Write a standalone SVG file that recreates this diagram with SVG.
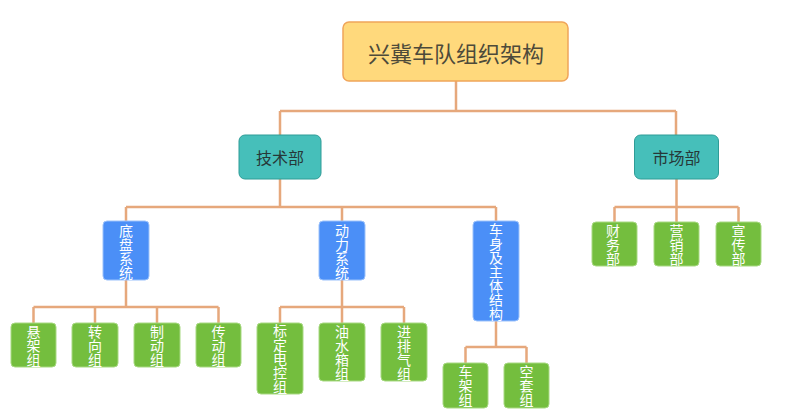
<svg xmlns="http://www.w3.org/2000/svg" width="801" height="418" viewBox="0 0 801 418">
<style>
.lnk{fill:none;stroke:#E6A87C;stroke-width:2.5;stroke-linejoin:miter}
.root rect{fill:#FFD97C;stroke:#F0A55A;stroke-width:1.5}
.l1 rect{fill:#46BFBA;stroke:#2F9C97;stroke-width:1}
.l2 rect{fill:#4B8FF7;stroke:#9CC2FB;stroke-width:1}
.l3 rect{fill:#74BE3E;stroke:#A8D982;stroke-width:1}
text{font-family:"Noto Sans CJK SC","Noto Sans",sans-serif;text-anchor:middle;dominant-baseline:central}
.root text{font-size:22px;fill:#4D4A3A}
.l1 text{font-size:16px;fill:#263838}
.v{font-size:14px;fill:#FFFFFF;writing-mode:vertical-rl;text-orientation:upright}
</style>
<rect width="801" height="418" fill="#FFFFFF"/>
<g id="connectors" class="lnk">
<path d="M456 81V111M280 111H676M280 111V135M676 111V135"/>
<path d="M280 179V207M126 207H496M126 207V221M342 207V221M496 207V221"/>
<path d="M676.5 179V207M614.5 207H738.5M614.5 207V222M676.5 207V222M738.5 207V222"/>
<path d="M126 280V307M33.5 307H218.5M33.5 307V323M95 307V323M157 307V323M218.5 307V323"/>
<path d="M342 280V307M280 307H404M280 307V323M342 307V323M404 307V323"/>
<path d="M496 321V347M465.5 347H526.5M465.5 347V363M526.5 347V363"/>
</g>
<g id="root" class="root"><rect x="343" y="22" width="225" height="59" rx="6"/><text x="456" y="51.5">兴冀车队组织架构</text></g>
<g id="jishubu" class="l1"><rect x="239" y="135" width="82" height="44" rx="6"/><text x="280" y="157">技术部</text></g>
<g id="shichangbu" class="l1"><rect x="634.5" y="135" width="84" height="44" rx="6"/><text x="676.5" y="157">市场部</text></g>
<g id="dipan" class="l2"><rect x="103" y="221" width="46" height="59" rx="4"/><text class="v" x="126" y="251.5">底盘系统</text></g>
<g id="dongli" class="l2"><rect x="319" y="221" width="46" height="59" rx="4"/><text class="v" x="342" y="251.5">动力系统</text></g>
<g id="cheshen" class="l2"><rect x="473" y="221" width="46" height="100" rx="4"/><text class="v" x="496" y="272">车身及主体结构</text></g>
<g id="caiwu" class="l3"><rect x="592" y="222" width="45" height="44" rx="4"/><text class="v" x="613" y="245">财务部</text></g>
<g id="yingxiao" class="l3"><rect x="654" y="222" width="45" height="44" rx="4"/><text class="v" x="676.5" y="245">营销部</text></g>
<g id="xuanchuan" class="l3"><rect x="716" y="222" width="45" height="44" rx="4"/><text class="v" x="738.5" y="245">宣传部</text></g>
<g id="xuanjia" class="l3"><rect x="11" y="323" width="45" height="44" rx="4"/><text class="v" x="33.5" y="346">悬架组</text></g>
<g id="zhuanxiang" class="l3"><rect x="72" y="323" width="46" height="44" rx="4"/><text class="v" x="95" y="346">转向组</text></g>
<g id="zhidong" class="l3"><rect x="134" y="323" width="46" height="44" rx="4"/><text class="v" x="157" y="346">制动组</text></g>
<g id="chuandong" class="l3"><rect x="196" y="323" width="45" height="44" rx="4"/><text class="v" x="218.5" y="346">传动组</text></g>
<g id="biaoding" class="l3"><rect x="257" y="323" width="46" height="71" rx="4"/><text class="v" x="280" y="359">标定电控组</text></g>
<g id="youshuixiang" class="l3"><rect x="319" y="323" width="46" height="58" rx="4"/><text class="v" x="342" y="352.5">油水箱组</text></g>
<g id="jinpaiqi" class="l3"><rect x="381" y="323" width="46" height="58" rx="4"/><text class="v" x="404" y="352.5">进排气组</text></g>
<g id="chejia" class="l3"><rect x="443" y="363" width="45" height="45" rx="4"/><text class="v" x="465.5" y="386">车架组</text></g>
<g id="kongtao" class="l3"><rect x="504" y="363" width="45" height="45" rx="4"/><text class="v" x="526.5" y="386">空套组</text></g>
</svg>
